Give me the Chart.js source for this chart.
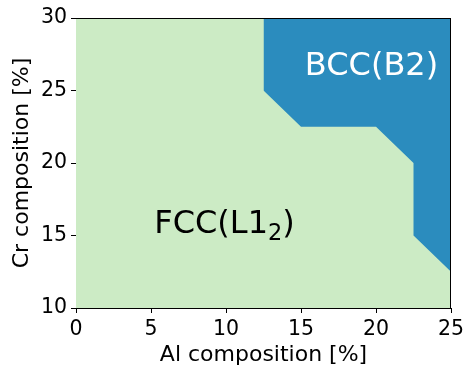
<!DOCTYPE html>
<html>
<head>
<meta charset="utf-8">
<script src="https://cdn.jsdelivr.net/npm/chart.js@4"></script>
<style>
  html, body { margin: 0; padding: 0; background: #fff; }
  canvas { display: block; }
</style>
</head>
<body>
<canvas id="chart" width="466" height="369"></canvas>
<script>
// Phase map: Al vs Cr composition
const X_MIN = 0, X_MAX = 25;
const Y_MIN = 10, Y_MAX = 30;

// FCC region covers the whole map (drawn underneath)
const fccX = [0, 25];
const fccY = [30, 30];

// BCC(B2) boundary, filled up to the top of the map
const bccX = [12.5, 12.5, 15, 20, 22.5, 22.5, 25];
const bccY = [30, 25, 22.5, 22.5, 20, 15, 12.5];

const FONT = "'DejaVu Sans', sans-serif";

function toPoints(xs, ys) {
    return xs.map((x, i) => ({ x: x, y: ys[i] }));
}

// Phase labels, placed in data coordinates
const phaseLabels = [
    { parts: [['BCC(B2)', false]], x: 19.7, y: 26.9, color: '#ffffff' },
    { parts: [['FCC(L1', false], ['2', true], [')', false]], x: 9.9, y: 15.95, color: '#000000' }
];

const framePlugin = {
    id: 'frame',
    afterDatasetsDraw(chart) {
        const { ctx, chartArea } = chart;
        const xs = chart.scales.x, ys = chart.scales.y;
        ctx.save();
        // top and right spines
        ctx.strokeStyle = '#000';
        ctx.lineWidth = 1;
        ctx.beginPath();
        ctx.moveTo(chartArea.left, chartArea.top + 0.5);
        ctx.lineTo(chartArea.right, chartArea.top + 0.5);
        ctx.moveTo(chartArea.right - 0.5, chartArea.top);
        ctx.lineTo(chartArea.right - 0.5, chartArea.bottom);
        ctx.stroke();

        // phase labels
        const size = 32;
        ctx.textBaseline = 'alphabetic';
        phaseLabels.forEach(lab => {
            let total = 0;
            lab.parts.forEach(([t, sub]) => {
                ctx.font = (sub ? size * 0.7 : size) + 'px ' + FONT;
                total += ctx.measureText(t).width;
            });
            let px = xs.getPixelForValue(lab.x) - total / 2;
            const py = ys.getPixelForValue(lab.y) + size * 0.729 / 2;
            ctx.fillStyle = lab.color;
            lab.parts.forEach(([t, sub]) => {
                ctx.font = (sub ? size * 0.7 : size) + 'px ' + FONT;
                ctx.fillText(t, px, sub ? py + size * 0.2 : py);
                px += ctx.measureText(t).width;
            });
        });
        ctx.restore();
    }
};

new Chart(document.getElementById('chart'), {
    type: 'line',
    data: {
        datasets: [
            {
                label: 'BCC(B2)',
                data: toPoints(bccX, bccY),
                backgroundColor: '#2b8cbe',
                borderWidth: 0,
                pointRadius: 0,
                tension: 0,
                fill: 'end'
            },
            {
                label: 'FCC(L12)',
                data: toPoints(fccX, fccY),
                backgroundColor: '#ccebc5',
                borderWidth: 0,
                pointRadius: 0,
                tension: 0,
                fill: 'start'
            }
        ]
    },
    options: {
        responsive: false,
        animation: false,
        devicePixelRatio: 1,
        layout: { padding: { top: 18, right: 15, left: 0, bottom: 0 } },
        plugins: {
            legend: { display: false },
            tooltip: { enabled: false }
        },
        scales: {
            x: {
                type: 'linear',
                min: X_MIN,
                max: X_MAX,
                afterFit: s => { s.height = 61; s.paddingLeft = 0; s.paddingRight = 0; },
                ticks: {
                    stepSize: 5,
                    color: '#000',
                    padding: 4,
                    font: { family: FONT, size: 20.5 }
                },
                grid: { drawOnChartArea: false, drawTicks: true, tickLength: 5, color: '#000' },
                border: { display: true, color: '#000', width: 1 },
                title: {
                    display: true,
                    text: 'Al composition [%]',
                    color: '#000',
                    padding: { top: 0, bottom: 1 },
                    font: { family: FONT, size: 22 }
                }
            },
            y: {
                type: 'linear',
                min: Y_MIN,
                max: Y_MAX,
                afterFit: s => { s.width = 76; s.paddingTop = 0; s.paddingBottom = 0; },
                ticks: {
                    stepSize: 5,
                    color: '#000',
                    padding: 4,
                    font: { family: FONT, size: 20.5 }
                },
                grid: { drawOnChartArea: false, drawTicks: true, tickLength: 5, color: '#000' },
                border: { display: true, color: '#000', width: 1 },
                title: {
                    display: true,
                    text: 'Cr composition [%]',
                    color: '#000',
                    padding: { top: 9, bottom: 0 },
                    font: { family: FONT, size: 22 }
                }
            }
        }
    },
    plugins: [framePlugin]
});
</script>
</body>
</html>
